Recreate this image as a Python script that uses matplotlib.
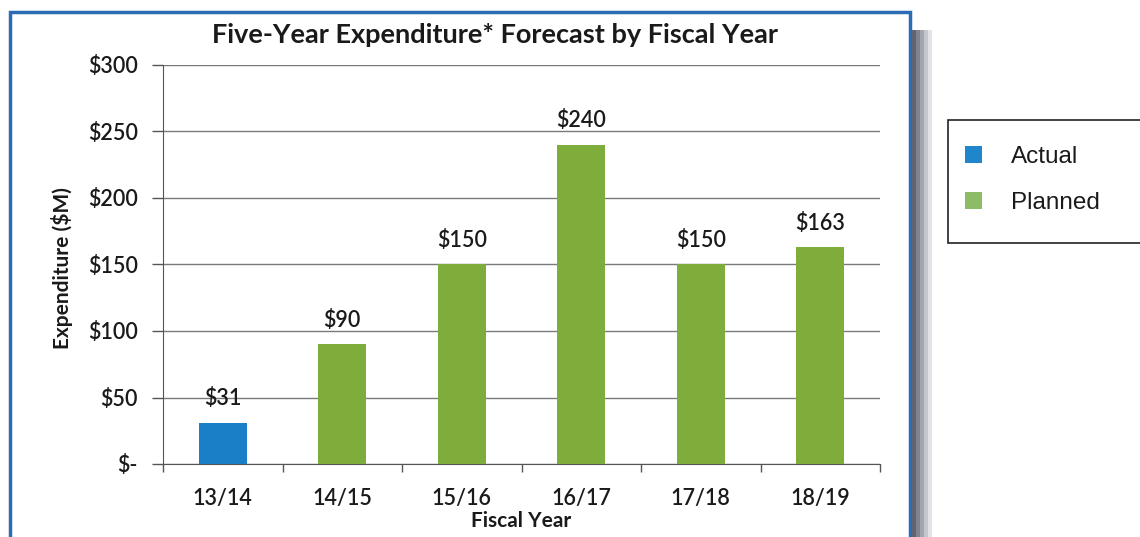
import matplotlib
matplotlib.use("Agg")
import matplotlib.pyplot as plt
from matplotlib.patches import Rectangle, Patch

categories = ["13/14", "14/15", "15/16", "16/17", "17/18", "18/19"]
values = [31, 90, 150, 240, 150, 163]
series = ["Actual", "Planned", "Planned", "Planned", "Planned", "Planned"]
yticks = [0, 50, 100, 150, 200, 250, 300]
ytick_labels = ["$-", "$50", "$100", "$150", "$200", "$250", "$300"]

bar_colors = {"Actual": "#1a7fc6", "Planned": "#7fad3b"}
legend_colors = {"Actual": "#1f86cc", "Planned": "#8cbd66"}

font = ["Lato", "DejaVu Sans"]
tc = "#1a1a1a"

fig = plt.figure(figsize=(11.4, 5.37), dpi=100)
ax = fig.add_axes([163/1140, 1-464/537, (880-163)/1140, (464-65)/537])

x = list(range(len(categories)))
ax.bar(x, values, width=0.4, color=[bar_colors[s] for s in series], zorder=3)
for xi, v in zip(x, values):
    ax.text(xi, v + 10, f"${v}", ha="center", va="bottom", fontsize=15.5,
            family=font, fontweight="semibold", color=tc, zorder=4)

ax.set_xlim(-0.5, len(categories) - 0.5)
ax.set_ylim(0, 300)
ax.set_yticks(yticks)
ax.set_yticklabels(ytick_labels, fontsize=15.5, family=font, fontweight="semibold", color=tc)
ax.set_xticks(x)
ax.set_xticklabels(categories, fontsize=15.5, family=font, fontweight="semibold", color=tc)
ax.tick_params(axis="x", length=0, pad=17)
ax.set_xticks([i - 0.5 for i in range(len(categories) + 1)], minor=True)
ax.tick_params(axis="x", which="minor", length=6, color="#555555", width=1)
ax.tick_params(axis="y", length=8, color="#555555", width=1, pad=10)
ax.grid(axis="y", color="#7a7a7a", linewidth=1, zorder=0)
for s in ["top", "right"]:
    ax.spines[s].set_visible(False)
ax.spines["left"].set_color("#555555")
ax.spines["bottom"].set_color("#555555")

fig.text(62/1140, 1-268/537, "Expenditure ($M)", rotation=90, ha="center", va="center",
         fontsize=15, fontweight="bold", family=font, color=tc)
fig.text(521/1140, 1-521/537, "Fiscal Year", ha="center", va="center",
         fontsize=15, fontweight="bold", family=font, color=tc)

fig.text(495/1140, 1-35/537, "Five-Year Expenditure* Forecast by Fiscal Year",
         ha="center", va="center", fontsize=19.5, fontweight="bold", family=font,
         color=tc)

# chart frame
fig.patches.append(Rectangle((10/1140, -0.01), (910-10)/1140, 1-12/537 + 0.01,
                             transform=fig.transFigure, fill=False,
                             edgecolor="#2a6db5", linewidth=2.5))
# shadow on right side
for i, c in enumerate(["#5f6372", "#80848f", "#a2a5af", "#c4c6cd", "#e2e3e7"]):
    fig.patches.append(Rectangle(((912 + i*4)/1140, 0), 4/1140, 1-30/537,
                                 transform=fig.transFigure, color=c, linewidth=0))

# legend box (extends past right edge)
fig.patches.append(Rectangle((948/1140, 1-243/537), 220/1140, 123/537,
                             transform=fig.transFigure, fill=True, facecolor="white",
                             edgecolor="#222222", linewidth=1.2))
handles = [Patch(facecolor=legend_colors[k], edgecolor="none", label=k)
           for k in ["Actual", "Planned"]]
leg = fig.legend(handles=handles, loc="upper left",
                 bbox_to_anchor=(965/1140, 1-146/537), frameon=False,
                 prop={"family": ["Liberation Sans", "DejaVu Sans"], "size": 17.5},
                 handlelength=0.7, handleheight=0.7, borderpad=0,
                 labelspacing=1.0, handletextpad=1.2, borderaxespad=0)
for t in leg.get_texts():
    t.set_color(tc)

fig.savefig("out.png", dpi=100)
